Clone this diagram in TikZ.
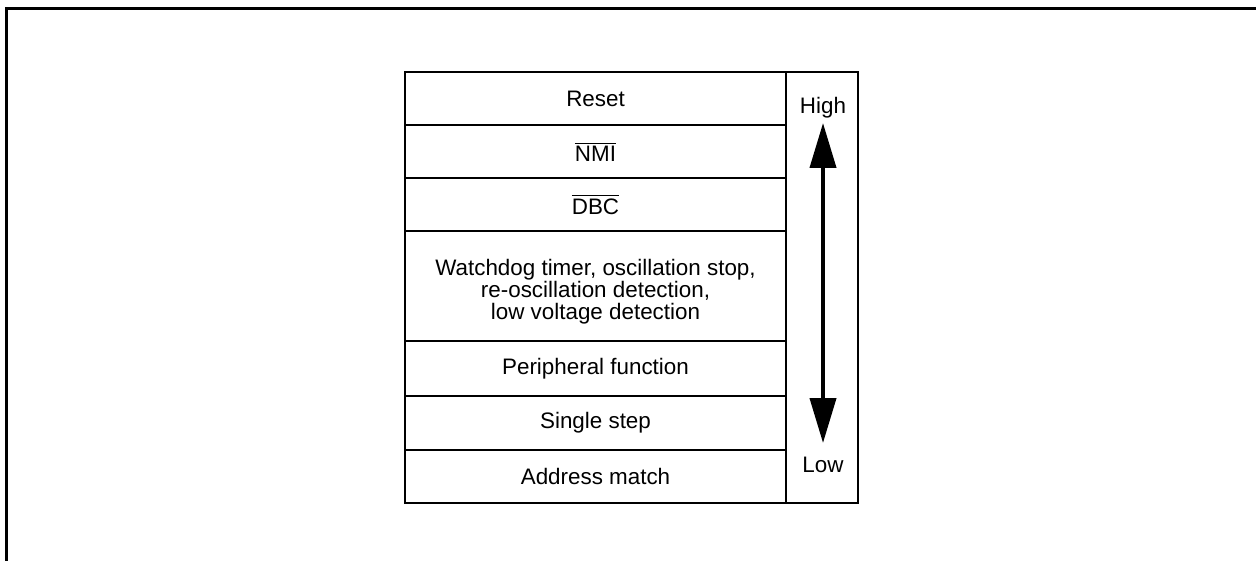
\documentclass[tikz,border=0pt]{standalone}
\usepackage{fontspec}
\setmainfont{Liberation Sans}
\usetikzlibrary{arrows.meta}
\begin{document}
\begin{tikzpicture}[x=0.5pt,y=-0.5pt,
  cell/.style={draw,line width=1pt,rectangle,minimum width=190.5pt,inner sep=0pt,font=\fontsize{11.2}{11}\selectfont,align=center},
  lab/.style={inner sep=0pt,font=\fontsize{11.2}{11}\selectfont,align=center},
  frame/.style={line width=1.5pt}]
\useasboundingbox (0,0) rectangle (1256,561);
\clip (0,0) rectangle (1256,561);
\draw[frame] (6,600) -- (6,9) -- (1300,9);
\node[cell,minimum height=26.5pt] (r1) at (595.5,98.5) {Reset};
\node[cell,minimum height=26.5pt] (r2) at (595.5,151.5) {$\overline{\mbox{NMI}}$};
\node[cell,minimum height=26.5pt] (r3) at (595.5,204.5) {$\overline{\mbox{DBC}}$};
\node[cell,minimum height=55pt] (r4) at (595.5,286) {};
\node[lab] (r4t) at (595.5,292) {Watchdog timer, oscillation stop,\\re-oscillation detection,\\low voltage detection};
\node[cell,minimum height=27.5pt] (r5) at (595.5,368.5) {Peripheral function};
\node[cell,minimum height=27pt] (r6) at (595.5,423) {Single step};
\node[cell,minimum height=26.5pt] (r7) at (595.5,476.5) {Address match};
\node[draw,line width=1pt,rectangle,minimum width=36pt,minimum height=215.5pt,inner sep=0pt] (col) at (822,287.5) {};
\node[lab] (high) at (823,108) {High};
\node[lab] (low) at (823,465) {Low};
\coordinate (atop) at (823,123);
\coordinate (abot) at (823,443);
\draw[line width=2pt,{Triangle[length=22.5pt,width=13pt]}-{Triangle[length=22.5pt,width=13pt]}] (atop) -- (abot);
\end{tikzpicture}
\end{document}
